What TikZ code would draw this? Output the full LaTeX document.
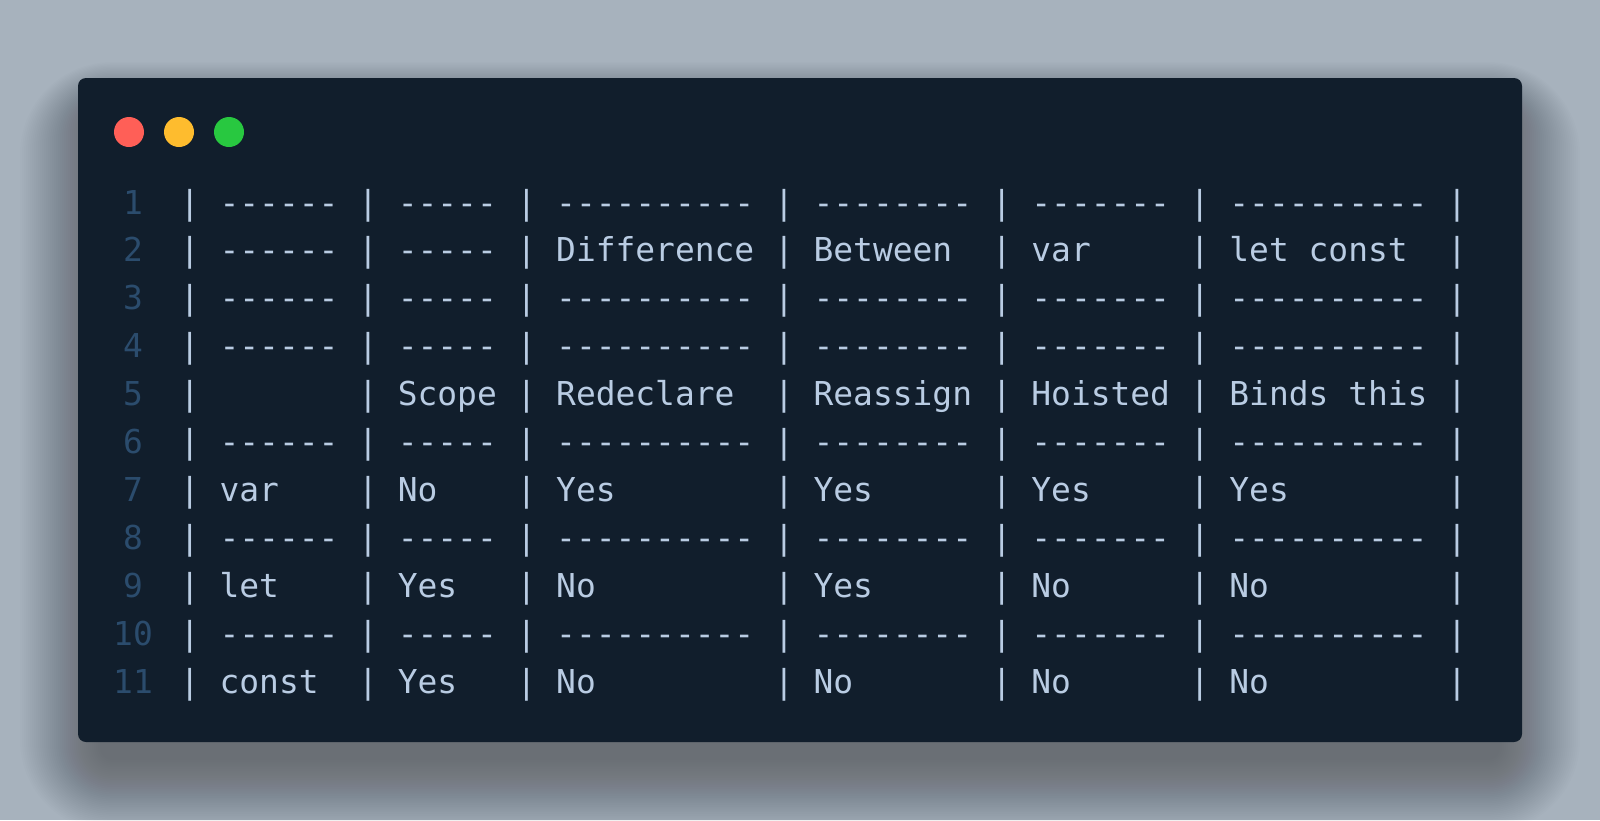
\documentclass[tikz,border=0pt]{standalone}
\usepackage{fontspec}
\setmonofont{DejaVu Sans Mono}
\definecolor{bgcol}{HTML}{A7B2BD}
\definecolor{winbg}{HTML}{111E2C}
\definecolor{codetext}{HTML}{B9CCE3}
\definecolor{numcol}{HTML}{2B4C6D}
\definecolor{dotred}{HTML}{FF5F57}
\definecolor{dotyellow}{HTML}{FEBC2E}
\definecolor{dotgreen}{HTML}{28C840}
\newcommand\coderow[2]{%
  \node[lnum,anchor=base] (n#1) at (133,{214+47.97*(#1-1)}) {#1};
  \foreach \i [count=\j] in {0,9,17,30,41,51,64}
    {\node[code,anchor=base] (p#1-\j) at ({189.9+19.8*\i},{214+47.97*(#1-1)}) {|};}
  \foreach \c [count=\k] in {#2}
    {\pgfmathsetmacro\s{{2,11,19,32,43,53}[\k-1]}%
     \node[code,anchor=base west] (c#1-\k) at ({180+19.8*\s},{214+47.97*(#1-1)}) {\c};}
}
\begin{document}
\begin{tikzpicture}[x=0.5pt,y=-0.5pt,
  every node/.style={inner sep=0pt,outer sep=0pt},
  code/.style={font=\ttfamily\fontsize{16.45}{18}\selectfont,text=codetext},
  lnum/.style={font=\ttfamily\fontsize{16.45}{18}\selectfont,text=numcol}]
\useasboundingbox (0,0) rectangle (1600,820);
\fill[bgcol] (0,0) rectangle (1600,820);
% shadow
\foreach \e in {0,2,...,80}
  {\fill[black,opacity=0.009,rounded corners={(6+\e/2)*1pt}] ({100-\e},{110-0.6*\e}) rectangle ({1500+\e},{760+0.9*\e});}
% window
\fill[winbg,rounded corners=4pt] (78,78) rectangle (1522,742);
\fill[dotred] (129,132) circle (7.5pt);
\fill[dotyellow] (179,132) circle (7.5pt);
\fill[dotgreen] (229,132) circle (7.5pt);
\coderow{1}{------,-----,----------,--------,-------,----------}
\coderow{2}{------,-----,Difference,Between,var,let const}
\coderow{3}{------,-----,----------,--------,-------,----------}
\coderow{4}{------,-----,----------,--------,-------,----------}
\coderow{5}{,Scope,Redeclare,Reassign,Hoisted,Binds this}
\coderow{6}{------,-----,----------,--------,-------,----------}
\coderow{7}{var,No,Yes,Yes,Yes,Yes}
\coderow{8}{------,-----,----------,--------,-------,----------}
\coderow{9}{let,Yes,No,Yes,No,No}
\coderow{10}{------,-----,----------,--------,-------,----------}
\coderow{11}{const,Yes,No,No,No,No}
\end{tikzpicture}
\end{document}
